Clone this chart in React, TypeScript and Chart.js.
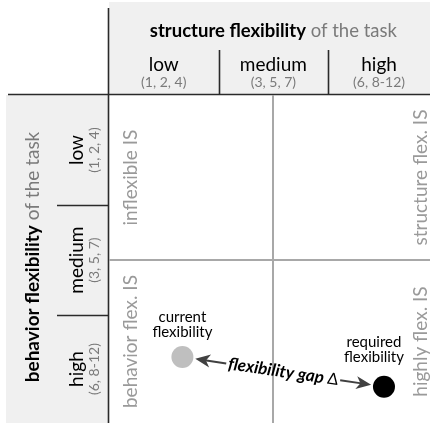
import { useEffect, useRef } from "react";
import { Chart, registerables } from "chart.js";

Chart.register(...registerables);

// ---- data ----
const structureTitle = ["structure flexibility", " of the task"];
const behaviorTitle = ["behavior flexibility", " of the task"];
const structureLevels = ["low", "medium", "high"];
const structureRanges = ["(1, 2, 4)", "(3, 5, 7)", "(6, 8-12)"];
const behaviorLevels = ["low", "medium", "high"];
const behaviorRanges = ["(1, 2, 4)", "(3, 5, 7)", "(6, 8-12)"];
const quadrantLabels = ["inflexible IS", "structure flex. IS", "behavior flex. IS", "highly flex. IS"];
const pointLabels = [
  ["current", "flexibility"],
  ["required", "flexibility"],
];
const pointStructure = [0.67, 2.51];
const pointBehavior = [2.38, 2.65];
const quadrantSplit = 1.5;
const gapLabel = "flexibility gap ";
const gapSymbol = "Δ";

// ---- style ----
const FONT = "Lato, 'Open Sans', sans-serif";
const HEADER_BG = "#f0f0f0";
const LINE_DARK = "#2a2a2a";
const GRAY_TEXT = "#7a7a7a";
const QUAD_TEXT = "#9a9a9a";
const POINT_COLORS = ["#bfbfbf", "#000000"];
const LABEL_DX = [0, -10];
const LABEL_DY = [-35, -40];

type Part = { text: string; font: string; color: string };

function drawParts(ctx: CanvasRenderingContext2D, parts: Part[], cx: number, cy: number) {
  let total = 0;
  const widths = parts.map((p) => {
    ctx.font = p.font;
    const w = ctx.measureText(p.text).width;
    total += w;
    return w;
  });
  let xx = cx - total / 2;
  ctx.textAlign = "left";
  parts.forEach((p, i) => {
    ctx.font = p.font;
    ctx.fillStyle = p.color;
    ctx.fillText(p.text, xx, cy);
    xx += widths[i];
  });
  return total;
}

function line(ctx: CanvasRenderingContext2D, x1: number, y1: number, x2: number, y2: number) {
  ctx.beginPath();
  ctx.moveTo(x1, y1);
  ctx.lineTo(x2, y2);
  ctx.stroke();
}

function arrowHead(ctx: CanvasRenderingContext2D, tx: number, ty: number, ux: number, uy: number) {
  const L = 15;
  const W = 6.5;
  const bx = tx - ux * L;
  const by = ty - uy * L;
  const nx = -uy;
  const ny = ux;
  ctx.beginPath();
  ctx.moveTo(tx, ty);
  ctx.lineTo(bx + nx * W, by + ny * W);
  ctx.lineTo(tx - ux * L * 0.72, ty - uy * L * 0.72);
  ctx.lineTo(bx - nx * W, by - ny * W);
  ctx.closePath();
  ctx.fill();
}

const decorPlugin = {
  id: "matrixDecor",
  beforeDraw(chart: any) {
    const { ctx, chartArea: ca, scales } = chart;
    const x = scales.x;
    const y = scales.y;
    ctx.save();
    ctx.fillStyle = HEADER_BG;
    ctx.fillRect(ca.left, 2, ca.right - ca.left, ca.top - 2);
    ctx.fillRect(6, ca.top, ca.left - 6, ca.bottom - ca.top);

    ctx.strokeStyle = LINE_DARK;
    ctx.lineWidth = 1.6;
    for (let i = 1; i < structureLevels.length; i++) {
      const px = Math.round(x.getPixelForValue(i)) + 0.5;
      line(ctx, px, 50, px, ca.top);
    }
    for (let i = 1; i < behaviorLevels.length; i++) {
      const py = Math.round(y.getPixelForValue(i)) + 0.5;
      line(ctx, 57, py, ca.left, py);
    }
    line(ctx, 8, ca.top - 0.5, ca.right, ca.top - 0.5);
    line(ctx, ca.left - 0.5, 8, ca.left - 0.5, ca.bottom);

    ctx.textBaseline = "alphabetic";
    const topCenter = (ca.left + x.getPixelForValue(structureLevels.length)) / 2;
    drawParts(
      ctx,
      [
        { text: structureTitle[0], font: `bold 18.5px ${FONT}`, color: "#000" },
        { text: structureTitle[1], font: `18.5px ${FONT}`, color: GRAY_TEXT },
      ],
      topCenter,
      37
    );
    ctx.textAlign = "center";
    structureLevels.forEach((lv, i) => {
      const a = x.getPixelForValue(i);
      const b = Math.min(x.getPixelForValue(i + 1), ca.right);
      const cx = (a + b) / 2;
      ctx.font = `19px ${FONT}`;
      ctx.fillStyle = "#000";
      ctx.fillText(lv, cx, 71);
      ctx.font = `14px ${FONT}`;
      ctx.fillStyle = GRAY_TEXT;
      ctx.fillText(structureRanges[i], cx, 87);
    });

    const leftCenter = (ca.top + ca.bottom) / 2 - 2;
    ctx.save();
    ctx.translate(39, leftCenter);
    ctx.rotate(-Math.PI / 2);
    drawParts(
      ctx,
      [
        { text: behaviorTitle[0], font: `bold 19px ${FONT}`, color: "#000" },
        { text: behaviorTitle[1], font: `19px ${FONT}`, color: GRAY_TEXT },
      ],
      0,
      0
    );
    ctx.restore();
    behaviorLevels.forEach((lv, i) => {
      const a = y.getPixelForValue(i);
      const b = Math.min(y.getPixelForValue(i + 1), ca.bottom);
      const cy = (a + b) / 2;
      ctx.save();
      ctx.translate(83, cy);
      ctx.rotate(-Math.PI / 2);
      ctx.textAlign = "center";
      ctx.font = `19px ${FONT}`;
      ctx.fillStyle = "#000";
      ctx.fillText(lv, 0, 0);
      ctx.restore();
      ctx.save();
      ctx.translate(99, cy);
      ctx.rotate(-Math.PI / 2);
      ctx.textAlign = "center";
      ctx.font = `14px ${FONT}`;
      ctx.fillStyle = GRAY_TEXT;
      ctx.fillText(behaviorRanges[i], 0, 0);
      ctx.restore();
    });

    const split = y.getPixelForValue(quadrantSplit);
    const rowCenters = [(ca.top + split) / 2, (split + ca.bottom) / 2];
    const colBaselines = [ca.left + 28, ca.right - 3];
    quadrantLabels.forEach((t, i) => {
      const r = Math.floor(i / 2);
      const c = i % 2;
      ctx.save();
      ctx.translate(colBaselines[c], rowCenters[r]);
      ctx.rotate(-Math.PI / 2);
      ctx.textAlign = "center";
      ctx.font = `19px ${FONT}`;
      ctx.fillStyle = QUAD_TEXT;
      ctx.fillText(t, 0, 0);
      ctx.restore();
    });
    ctx.restore();
  },
  afterDatasetsDraw(chart: any) {
    const { ctx, scales } = chart;
    const x = scales.x;
    const y = scales.y;
    const pts = pointStructure.map((v, i) => ({
      x: x.getPixelForValue(v),
      y: y.getPixelForValue(pointBehavior[i]),
    }));
    ctx.save();
    ctx.textAlign = "center";
    ctx.textBaseline = "alphabetic";
    ctx.fillStyle = "#000";
    ctx.font = `15px ${FONT}`;
    pts.forEach((p, i) => {
      pointLabels[i].forEach((t, j) => {
        ctx.fillText(t, p.x + LABEL_DX[i], p.y + LABEL_DY[i] + j * 15);
      });
    });

    const [p1, p2] = pts;
    const dx = p2.x - p1.x;
    const dy = p2.y - p1.y;
    const len = Math.hypot(dx, dy);
    const ux = dx / len;
    const uy = dy / len;
    const off = 13;
    const t1 = { x: p1.x + ux * off, y: p1.y + uy * off };
    const t2 = { x: p2.x - ux * off, y: p2.y - uy * off };
    const mid = { x: (t1.x + t2.x) / 2, y: (t1.y + t2.y) / 2 };
    const ang = Math.atan2(dy, dx);

    ctx.save();
    ctx.translate(mid.x, mid.y);
    ctx.rotate(ang);
    ctx.textBaseline = "middle";
    const w = drawParts(
      ctx,
      [
        { text: gapLabel, font: `italic bold 17px ${FONT}`, color: "#000" },
        { text: gapSymbol, font: `16px ${FONT}`, color: "#000" },
      ],
      0,
      0
    );
    ctx.restore();

    ctx.strokeStyle = "#404040";
    ctx.fillStyle = "#404040";
    ctx.lineWidth = 2;
    const g = w / 2 + 2;
    line(ctx, t1.x + ux * 8, t1.y + uy * 8, mid.x - ux * g, mid.y - uy * g);
    line(ctx, mid.x + ux * g, mid.y + uy * g, t2.x - ux * 8, t2.y - uy * 8);
    arrowHead(ctx, t1.x, t1.y, -ux, -uy);
    arrowHead(ctx, t2.x, t2.y, ux, uy);
    ctx.restore();
  },
};

export default function App() {
  const ref = useRef<HTMLCanvasElement | null>(null);
  useEffect(() => {
    if (!ref.current) return;
    const chart = new Chart(ref.current, {
      type: "scatter",
      data: {
        datasets: [
          {
            label: "flexibility",
            data: pointStructure.map((v, i) => ({ x: v, y: pointBehavior[i] })),
            pointRadius: 11,
            pointHoverRadius: 11,
            pointBackgroundColor: POINT_COLORS,
            pointBorderWidth: 0,
            borderWidth: 0,
            clip: false,
          },
        ],
      },
      options: {
        responsive: false,
        animation: false,
        devicePixelRatio: 1,
        layout: { autoPadding: false, padding: { left: 109, top: 95, right: 0, bottom: 0 } },
        plugins: { legend: { display: false }, tooltip: { enabled: false } },
        events: [],
        scales: {
          x: {
            type: "linear",
            position: "top",
            min: 0,
            max: 2.93,
            afterBuildTicks: (s: any) => {
              s.ticks = [{ value: quadrantSplit }];
            },
            ticks: { display: false },
            grid: { drawTicks: false, color: "#a8a8a8", lineWidth: 2 },
            border: { display: false },
          },
          y: {
            type: "linear",
            reverse: true,
            min: 0,
            max: 2.98,
            afterBuildTicks: (s: any) => {
              s.ticks = [{ value: quadrantSplit }];
            },
            ticks: { display: false },
            grid: { drawTicks: false, color: "#a8a8a8", lineWidth: 2 },
            border: { display: false },
          },
        },
      },
      plugins: [decorPlugin],
    } as any);
    return () => chart.destroy();
  }, []);
  return (
    <div style={{ position: "absolute", left: 0, top: 0, width: 430, height: 423 }}>
      <canvas ref={ref} width={430} height={423} style={{ display: "block", width: 430, height: 423 }} />
    </div>
  );
}
